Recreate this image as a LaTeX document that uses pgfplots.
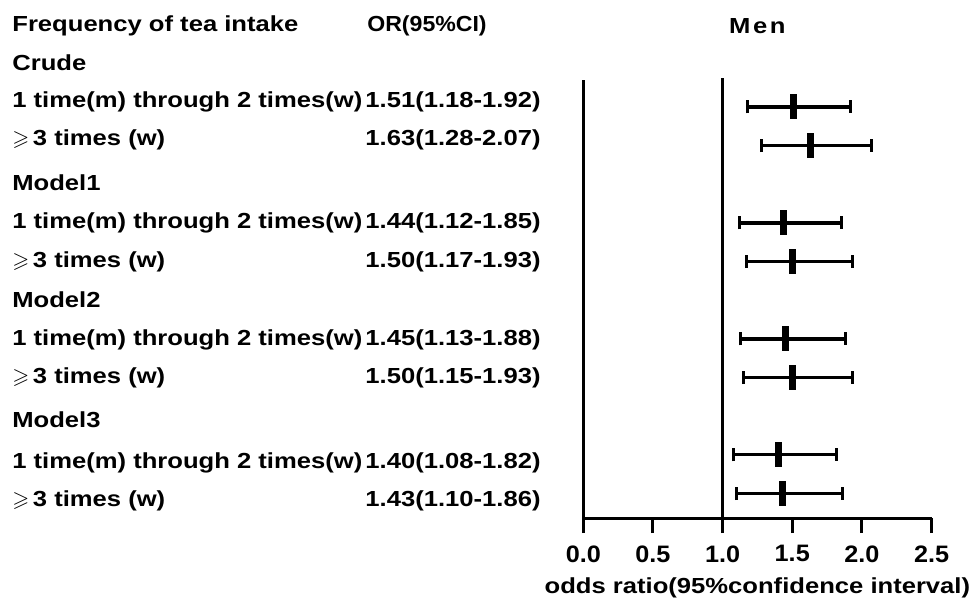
\documentclass[border=0pt]{standalone}
\usepackage{amssymb}
\usepackage{fontspec}
\usepackage{pgfplots}
\pgfplotsset{compat=1.18}
\usepackage{pgfplotstable}
\setmainfont{Liberation Sans}[FakeStretch=1.175]
\newfontfamily\tickfont{Liberation Sans}[FakeStretch=1.06]

% row position (y), odds ratio, lower and upper error widths
\pgfplotstableread{
y     or    em    ep
0     1.51  0.33  0.41
-1    1.63  0.35  0.44
-3    1.44  0.32  0.41
-4    1.50  0.33  0.43
-6    1.45  0.32  0.43
-7    1.50  0.35  0.43
-9    1.40  0.32  0.42
-10   1.43  0.33  0.43
}\ordata

\newcommand{\txt}{\bfseries\fontsize{10.9}{12}\selectfont}

\begin{document}
\begin{tikzpicture}[every node/.style={inner sep=0pt}]
\begin{axis}[
  scale only axis, width=174.2pt, height=219.15pt,
  xmin=0, xmax=2.5, ymin=-10.636, ymax=0.698,
  axis x line=bottom, axis y line=left,
  axis line style={line width=1.5pt, -},
  xtick={0,0.5,1,1.5,2,2.5},
  xticklabels={0.0,0.5,1.0,1.5,2.0,2.5},
  ytick=\empty,
  tick style={line width=1.5pt, black},
  major tick length=7.5pt, tick align=outside,
  xticklabel style={font=\tickfont\bfseries\fontsize{11.9}{14}\selectfont, yshift=-6pt},
  clip=false,
]
\addplot[black, line width=1.5pt, no markers] coordinates {(1,-10.636) (1,0.75)};
\addplot[only marks, black, mark=|, mark size=6.25pt, mark options={line width=3.5pt},
  error bars/.cd, x dir=both, x explicit,
  error bar style={line width=1.6pt, black},
  error mark=|, error mark options={line width=1.5pt, mark size=3.25pt, black}]
  table[x=or, y=y, x error plus=ep, x error minus=em] {\ordata};

% text columns
\node[anchor=mid west, font=\txt] at (axis cs:-4.101,2.095) {Frequency of tea intake};
\node[anchor=mid west, font=\tickfont\bfseries\fontsize{10.9}{12}\selectfont] at (axis cs:-1.553,2.095) {OR(95\%CI)};
\node[anchor=mid, font=\txt] at (axis cs:1.25,2.05) {\addfontfeature{LetterSpace=12}Men};

\node[anchor=mid west, font=\txt] at (axis cs:-4.101,1.086) {Crude};
\node[anchor=mid west, font=\txt] at (axis cs:-4.101,0.129) {1 time(m) through 2 times(w)};
\node[anchor=mid east, font=\txt] at (axis cs:-0.3036,0.129) {1.51(1.18-1.92)};
\node[anchor=mid west, font=\txt] at (axis cs:-4.101,-0.853) {$\geqslant$\,3 times (w)};
\node[anchor=mid east, font=\txt] at (axis cs:-0.3036,-0.853) {1.63(1.28-2.07)};

\node[anchor=mid west, font=\txt] at (axis cs:-4.101,-2.017) {Model1};
\node[anchor=mid west, font=\txt] at (axis cs:-4.101,-3.0) {1 time(m) through 2 times(w)};
\node[anchor=mid east, font=\txt] at (axis cs:-0.3036,-3.0) {1.44(1.12-1.85)};
\node[anchor=mid west, font=\txt] at (axis cs:-4.101,-4.008) {$\geqslant$\,3 times (w)};
\node[anchor=mid east, font=\txt] at (axis cs:-0.3036,-4.008) {1.50(1.17-1.93)};

\node[anchor=mid west, font=\txt] at (axis cs:-4.101,-5.043) {Model2};
\node[anchor=mid west, font=\txt] at (axis cs:-4.101,-6.025) {1 time(m) through 2 times(w)};
\node[anchor=mid east, font=\txt] at (axis cs:-0.3036,-6.025) {1.45(1.13-1.88)};
\node[anchor=mid west, font=\txt] at (axis cs:-4.101,-7.008) {$\geqslant$\,3 times (w)};
\node[anchor=mid east, font=\txt] at (axis cs:-0.3036,-7.008) {1.50(1.15-1.93)};

\node[anchor=mid west, font=\txt] at (axis cs:-4.101,-8.146) {Model3};
\node[anchor=mid west, font=\txt] at (axis cs:-4.101,-9.206) {1 time(m) through 2 times(w)};
\node[anchor=mid east, font=\txt] at (axis cs:-0.3036,-9.206) {1.40(1.08-1.82)};
\node[anchor=mid west, font=\txt] at (axis cs:-4.101,-10.189) {$\geqslant$\,3 times (w)};
\node[anchor=mid east, font=\txt] at (axis cs:-0.3036,-10.189) {1.43(1.10-1.86)};

% x label
\node[anchor=base, font=\txt] at (axis cs:1.25,-10.636) [yshift=-37.5pt] {odds ratio(95\%confidence interval)};

\coordinate (tl) at (axis cs:-4.187,2.767);
\coordinate (br) at (axis cs:2.819,-12.878);
\end{axis}
\pgfresetboundingbox
\path (tl) rectangle (br);
\end{tikzpicture}
\end{document}
